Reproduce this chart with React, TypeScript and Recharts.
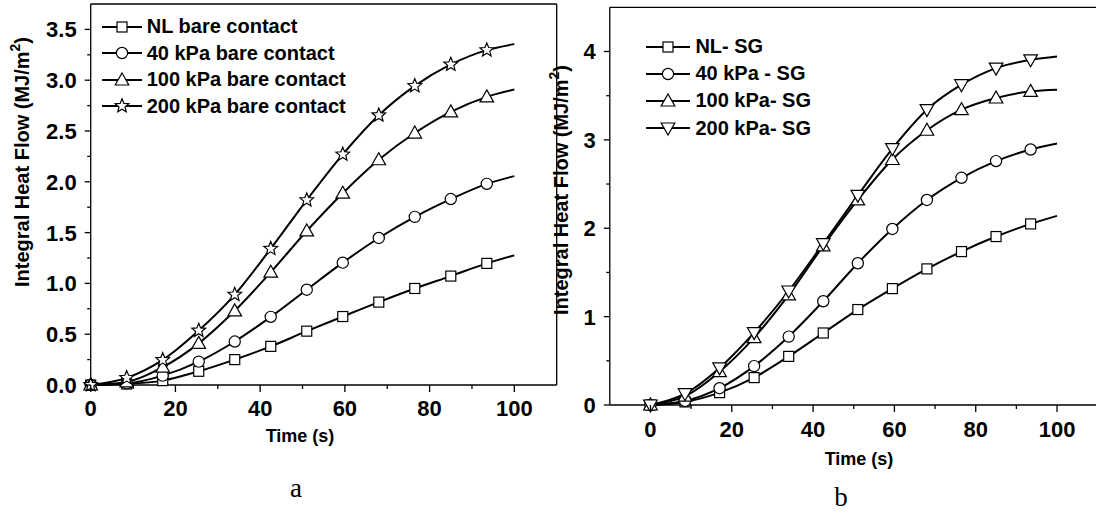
import React from "react";
import { LineChart, Line, XAxis, YAxis, Legend, ReferenceLine } from "recharts";

// ---------- data ----------
const timeA = [0, 8.5, 17, 25.5, 34, 42.5, 51, 59.5, 68, 76.5, 85, 93.5, 100];
const nlBare = [0, 0.01, 0.043, 0.135, 0.25, 0.38, 0.53, 0.674, 0.816, 0.95, 1.072, 1.197, 1.276];
const kpa40Bare = [0, 0.016, 0.092, 0.23, 0.428, 0.671, 0.938, 1.204, 1.447, 1.655, 1.83, 1.98, 2.056];
const kpa100Bare = [0, 0.03, 0.175, 0.41, 0.73, 1.11, 1.516, 1.888, 2.217, 2.48, 2.688, 2.836, 2.908];
const kpa200Bare = [0, 0.07, 0.247, 0.536, 0.89, 1.342, 1.82, 2.27, 2.655, 2.944, 3.155, 3.296, 3.355];
const namesA = ["NL bare contact", "40 kPa bare contact", "100 kPa bare contact", "200 kPa bare contact"];

const timeB = [0, 8.5, 17, 25.5, 34, 42.5, 51, 59.5, 68, 76.5, 85, 93.5, 100];
const nlSG = [0, 0.035, 0.14, 0.31, 0.55, 0.815, 1.08, 1.317, 1.54, 1.736, 1.906, 2.049, 2.14];
const kpa40SG = [0, 0.045, 0.19, 0.44, 0.774, 1.174, 1.604, 1.992, 2.32, 2.571, 2.76, 2.891, 2.959];
const kpa100SG = [0, 0.1, 0.377, 0.762, 1.245, 1.8, 2.32, 2.778, 3.109, 3.342, 3.474, 3.549, 3.568];
const kpa200SG = [0, 0.128, 0.42, 0.819, 1.29, 1.826, 2.372, 2.902, 3.342, 3.624, 3.812, 3.906, 3.944];
const namesB = ["NL- SG", "40 kPa - SG", "100 kPa- SG", "200 kPa- SG"];

const xTicks = [0, 10, 20, 30, 40, 50, 60, 70, 80, 90, 100];
const yTicksA = [0, 0.25, 0.5, 0.75, 1, 1.25, 1.5, 1.75, 2, 2.25, 2.5, 2.75, 3, 3.25, 3.5];
const yTicksB = [0, 0.5, 1, 1.5, 2, 2.5, 3, 3.5, 4];

const shapesA = ["square", "circle", "triUp", "star"];
const shapesB = ["square", "circle", "triUp", "triDown"];

const dataA = timeA.map((t, i) => ({ t, s0: nlBare[i], s1: kpa40Bare[i], s2: kpa100Bare[i], s3: kpa200Bare[i] }));
const dataB = timeB.map((t, i) => ({ t, s0: nlSG[i], s1: kpa40SG[i], s2: kpa100SG[i], s3: kpa200SG[i] }));

const FONT = "'Liberation Sans', Arial, sans-serif";

// ---------- markers ----------
function Marker({ shape, cx, cy }: { shape: string; cx: number; cy: number }) {
  const st = { fill: "#fff", stroke: "#000", strokeWidth: 1.2 };
  if (shape === "square") return <rect x={cx - 5} y={cy - 5} width={10} height={10} {...st} />;
  if (shape === "circle") return <circle cx={cx} cy={cy} r={5.6} {...st} />;
  if (shape === "triUp")
    return <polygon points={`${cx},${cy - 7} ${cx + 6.8},${cy + 5} ${cx - 6.8},${cy + 5}`} {...st} />;
  if (shape === "triDown")
    return <polygon points={`${cx},${cy + 7} ${cx + 6.8},${cy - 5} ${cx - 6.8},${cy - 5}`} {...st} />;
  const pts: string[] = [];
  for (let k = 0; k < 10; k++) {
    const r = k % 2 === 0 ? 7.2 : 3.2;
    const a = -Math.PI / 2 + (k * Math.PI) / 5;
    pts.push(`${cx + r * Math.cos(a)},${cy + r * Math.sin(a)}`);
  }
  return <polygon points={pts.join(" ")} {...st} />;
}

const makeDot = (shape: string) => (p: any) => {
  const key = `d-${shape}-${p.index}`;
  if (p.payload.t === 100 || p.cx == null || p.cy == null) return <g key={key} />;
  return (
    <g key={key}>
      <Marker shape={shape} cx={p.cx} cy={p.cy} />
    </g>
  );
};

// ---------- ticks ----------
const makeXTick = (labelDy: number) => (p: any) => {
  const v = p.payload.value;
  const major = v % 20 === 0;
  return (
    <g>
      <line x1={p.x} x2={p.x} y1={p.y} y2={p.y + (major ? 7 : 4)} stroke="#000" strokeWidth={1.3} />
      {major && (
        <text x={p.x} y={p.y + labelDy} textAnchor="middle" fontSize={22} fontWeight="bold" fontFamily={FONT} fill="#000">
          {v}
        </text>
      )}
    </g>
  );
};

const makeYTick = (step: number, digits: number) => (p: any) => {
  const v = p.payload.value;
  const major = Math.abs(v / step - Math.round(v / step)) < 1e-6;
  return (
    <g>
      <line x1={p.x} x2={p.x - (major ? 6 : 3.5)} y1={p.y} y2={p.y} stroke="#000" strokeWidth={1.3} />
      {major && (
        <text x={p.x - 14} y={p.y + 8} textAnchor="end" fontSize={22} fontWeight="bold" fontFamily={FONT} fill="#000">
          {v.toFixed(digits)}
        </text>
      )}
    </g>
  );
};

// ---------- legend ----------
const makeLegend = (names: string[], shapes: string[], rowH: number, lineW: number) => () => (
  <div style={{ fontFamily: FONT, fontWeight: "bold", fontSize: 20, color: "#000" }}>
    {names.map((n, i) => (
      <div key={n} style={{ display: "flex", alignItems: "center", height: rowH, whiteSpace: "nowrap" }}>
        <svg width={lineW} height={20} style={{ display: "block" }}>
          <line x1={0} x2={lineW} y1={10} y2={10} stroke="#000" strokeWidth={2} />
          <Marker shape={shapes[i]} cx={lineW / 2} cy={10} />
        </svg>
        <span style={{ marginLeft: 5 }}>{n}</span>
      </div>
    ))}
  </div>
);

// ---------- titles ----------
const yTitle = (x: number, y: number) => () => (
  <text
    x={x}
    y={y}
    transform={`rotate(-90 ${x} ${y})`}
    textAnchor="middle"
    fontSize={20}
    fontWeight="bold"
    fontFamily={FONT}
    fill="#000"
  >
    Integral Heat Flow (MJ/m<tspan dy={-9} fontSize={14}>2</tspan>
    <tspan dy={9}>)</tspan>
  </text>
);

const xTitle = (x: number, y: number, lx: number, ly: number, letter: string) => () => (
  <g>
    <text x={x} y={y} textAnchor="middle" fontSize={18} fontWeight="bold" fontFamily={FONT} fill="#000">
      Time (s)
    </text>
    <text x={lx} y={ly} textAnchor="middle" fontSize={27} fontFamily="'Liberation Serif', 'Times New Roman', serif" fill="#000">
      {letter}
    </text>
  </g>
);

export default function App() {
  const lineProps = { type: "monotone" as const, stroke: "#000", strokeWidth: 2, isAnimationActive: false, activeDot: false };
  return (
    <div
      style={{
        position: "absolute",
        left: 0,
        top: 0,
        width: 1096,
        height: 520,
        overflow: "hidden",
        background: "#fff",
        fontFamily: FONT,
      }}
    >
      {/* Chart a */}
      <div style={{ position: "absolute", left: 0, top: 0 }}>
        <LineChart width={560} height={520} data={dataA} margin={{ top: 4, right: 3.3, bottom: 0, left: 0 }}>
          <XAxis
            dataKey="t"
            type="number"
            domain={[0, 110]}
            ticks={xTicks}
            interval={0}
            height={135}
            tickSize={0}
            tickMargin={0}
            tickLine={false}
            tick={makeXTick(31)}
            axisLine={{ stroke: "#000", strokeWidth: 1.3 }}
            label={xTitle(300, 442, 296, 497, "a")}
          />
          <YAxis
            type="number"
            domain={[0, 3.75]}
            ticks={yTicksA}
            interval={0}
            width={90.7}
            tickSize={0}
            tickMargin={0}
            tickLine={false}
            tick={makeYTick(0.5, 1)}
            axisLine={{ stroke: "#000", strokeWidth: 1.3 }}
            label={yTitle(29, 162)}
          />
          <ReferenceLine y={3.75} stroke="#000" strokeWidth={1.3} />
          <ReferenceLine x={110} stroke="#000" strokeWidth={1.3} />
          <Legend
            layout="vertical"
            align="center"
            verticalAlign="middle"
            wrapperStyle={{ left: 101.7, top: 13.5, width: 330 }}
            content={makeLegend(namesA, shapesA, 26.5, 40)}
          />
          {shapesA.map((s, i) => (
            <Line key={s} dataKey={`s${i}`} name={namesA[i]} dot={makeDot(s)} {...lineProps} />
          ))}
        </LineChart>
      </div>

      {/* Chart b */}
      <div style={{ position: "absolute", left: 500, top: 0 }}>
        <LineChart width={600} height={520} data={dataB} margin={{ top: 7.3, right: 2.3, bottom: 0, left: 0 }}>
          <XAxis
            dataKey="t"
            type="number"
            domain={[-10, 110]}
            ticks={xTicks}
            interval={0}
            height={115}
            tickSize={0}
            tickMargin={0}
            tickLine={false}
            tick={makeXTick(32)}
            axisLine={{ stroke: "#000", strokeWidth: 1.3 }}
            label={xTitle(359, 465, 341, 506, "b")}
          />
          <YAxis
            type="number"
            domain={[0, 4.5]}
            ticks={yTicksB}
            interval={0}
            width={109.8}
            tickSize={0}
            tickMargin={0}
            tickLine={false}
            tick={makeYTick(1, 0)}
            axisLine={{ stroke: "#000", strokeWidth: 1.3 }}
            label={yTitle(68, 190)}
          />
          <ReferenceLine y={4.5} stroke="#000" strokeWidth={1.3} />
          <Legend
            layout="vertical"
            align="center"
            verticalAlign="middle"
            wrapperStyle={{ left: 146.4, top: 33, width: 300 }}
            content={makeLegend(namesB, shapesB, 27.2, 44)}
          />
          {shapesB.map((s, i) => (
            <Line key={s} dataKey={`s${i}`} name={namesB[i]} dot={makeDot(s)} {...lineProps} />
          ))}
        </LineChart>
      </div>
    </div>
  );
}
